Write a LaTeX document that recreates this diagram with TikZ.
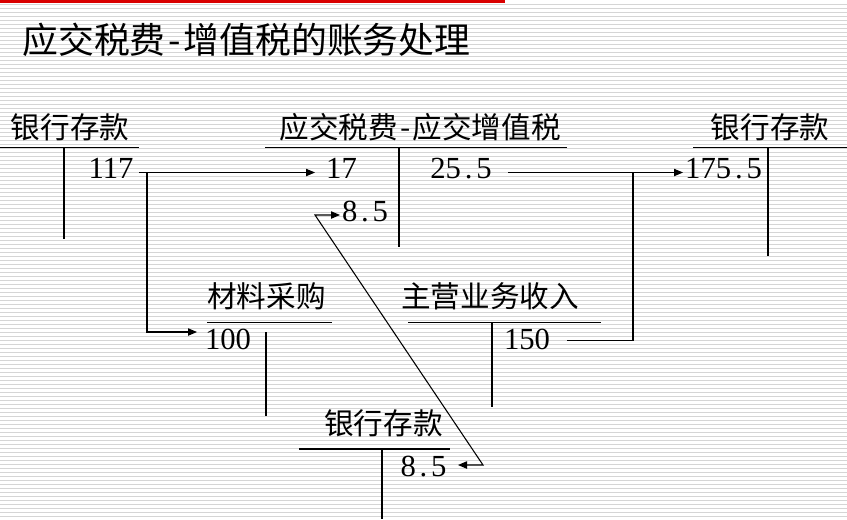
\documentclass[tikz,border=0pt]{standalone}
\usepackage{fontspec}
\setmainfont{Liberation Serif}
\newfontfamily\cjk{Noto Sans CJK SC}
\usetikzlibrary{arrows.meta}
\newcommand\pd{\makebox[0.5em]{.}}
\newcommand\hy{\makebox[0.5em]{-}}
\begin{document}
\begin{tikzpicture}[x=0.75pt,y=-0.75pt,
  stripe/.style={draw=gray!33,line width=0.75pt},
  acct/.style={draw=black,line width=0.8pt},
  conn/.style={draw=black,line width=0.8pt},
  arr/.style={-{Triangle[length=6.75pt,width=5.5pt]}},
  title/.style={inner sep=0pt,font=\cjk\fontsize{26.9pt}{30pt}\selectfont},
  lab/.style={inner sep=0pt,font=\cjk\fontsize{22.2pt}{26pt}\selectfont},
  num/.style={inner sep=0pt,font=\fontsize{23pt}{26pt}\selectfont}]
% background
\fill[white] (0,0) rectangle (847,519);
\useasboundingbox (0,0) rectangle (847,519);
\foreach \k in {1,...,129} \draw[stripe] (0,4*\k+0.5) -- (847,4*\k+0.5);
\fill[red!85!black] (0,0) rectangle (505,2.5);
% title
\node[title,anchor=west] (title) at (22,40) {应交税费\hy 增值税的账务处理};
% account labels
\node[lab] (L1) at (70,127) {银行存款};
\node[lab] (L2) at (420,127) {应交税费\hy 应交增值税};
\node[lab] (L3) at (770,127) {银行存款};
\node[lab] (L4) at (266.5,296) {材料采购};
\node[lab] (L5) at (490,296) {主营业务收入};
\node[lab] (L6) at (383.5,423.5) {银行存款};
% T-account lines
\draw[acct] (0,147.5) -- (139,147.5) (64,147.5) -- (64,239);
\draw[acct] (265,147.5) -- (567,147.5) (399,147.5) -- (399,247);
\draw[acct] (693,147.5) -- (847,147.5) (768,147.5) -- (768,256);
\draw[acct] (207,322.5) -- (332,322.5) (266,332) -- (266,416);
\draw[acct] (408,322.5) -- (601,322.5) (492,322.5) -- (492,407);
\draw[acct] (299,449) -- (450,449) (382,449) -- (382,519);
% amounts
\node[num] (n117) at (111,168.5) {117};
\node[num] (n17) at (341.5,168.5) {17};
\node[num] (n255) at (461,168.5) {25\pd 5};
\node[num] (n85a) at (365,211.5) {8\pd 5};
\node[num] (n1755) at (723.5,168.5) {175\pd 5};
\node[num] (n100) at (228,339.5) {100};
\node[num] (n150) at (527,339) {150};
\node[num] (n85b) at (423.5,467) {8\pd 5};
% connector points
\coordinate (s117) at (139,172.5);
\coordinate (t17) at (315,172.5);
\coordinate (b117) at (147,172.5);
\coordinate (t100) at (197,332);
\coordinate (s255) at (508,172.5);
\coordinate (t1755) at (683,172.5);
\coordinate (j150) at (633,172.5);
\coordinate (s150) at (567,340.5);
\coordinate (t85a) at (340,215);
\coordinate (k85a) at (315,215);
\coordinate (k85b) at (483,465);
\coordinate (t85b) at (458,465);
% connectors
\draw[conn,arr] (s117) -- (t17);
\draw[conn,arr] (b117) |- (t100);
\draw[conn,arr] (s255) -- (t1755);
\draw[conn] (s150) -| (j150);
\draw[conn,{Triangle[length=6.75pt,width=5.5pt]}-{Triangle[length=6.75pt,width=5.5pt]}] (t85b) -- (k85b) -- (k85a) -- (t85a);
\end{tikzpicture}
\end{document}
